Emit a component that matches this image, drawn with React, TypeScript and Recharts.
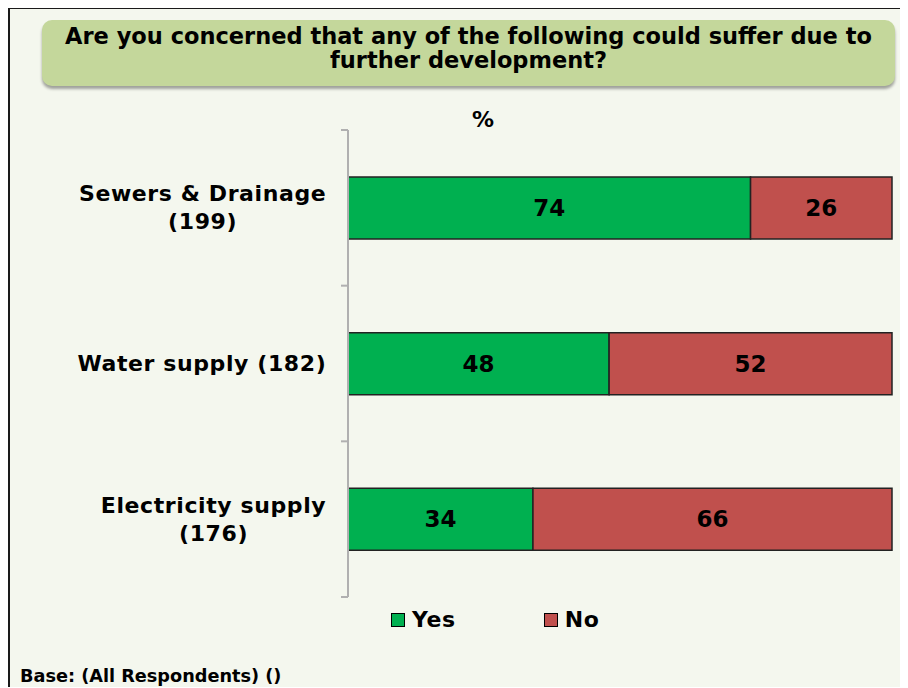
import React from "react";
import { BarChart, Bar, XAxis, YAxis, LabelList, Legend } from "recharts";

const categories = ["Sewers & Drainage (199)", "Water supply (182)", "Electricity supply (176)"];
const categoryLines = [["Sewers & Drainage", "(199)"], ["Water supply (182)"], ["Electricity supply", "(176)"]];
const yesValues = [74, 48, 34];
const noValues = [26, 52, 66];
const seriesNames = ["Yes", "No"];
const seriesColors = ["#00B050", "#C0504D"];

const data = categories.map((c, i) => ({ name: c, yes: yesValues[i], no: noValues[i] }));

const LABEL_FONT = "'DejaVu Sans', Verdana, sans-serif";
const TICK_FS = 22;
const TICK_LS = 0.6;

let ctx: CanvasRenderingContext2D | null = null;
function measure(text: string, fs: number, ls: number) {
  if (!ctx) {
    const c = document.createElement("canvas");
    ctx = c.getContext("2d");
  }
  if (!ctx) return text.length * (fs * 0.65 + ls);
  ctx.font = `bold ${fs}px 'DejaVu Sans'`;
  return ctx.measureText(text).width + ls * text.length;
}

const CHART_W = 898;
const CHART_H = 678;
const MARGIN = { top: 121, right: 16, bottom: 90, left: 0 };
const Y_WIDTH = 338;
const TICK_MARGIN = 16;
const TICK_SIZE = 6;

const CatTick = (props: any) => {
  const { x, y, payload, index } = props;
  const idx = categories.indexOf(payload.value);
  const lines = categoryLines[idx] || [payload.value];
  const band = (CHART_H - MARGIN.top - MARGIN.bottom) / categories.length;
  const maxW = Math.max(...lines.map((l) => measure(l, TICK_FS, TICK_LS)));
  const cx = x - maxW / 2 + TICK_LS / 2;
  const lh = 28;
  const startY = y - ((lines.length - 1) * lh) / 2;
  const axisX = x + TICK_MARGIN + TICK_SIZE;
  return (
    <g>
      <line x1={axisX - 7} x2={axisX} y1={y - band / 2} y2={y - band / 2} stroke="#b0b0b0" strokeWidth={2} />
      {index === categories.length - 1 && (
        <line x1={axisX - 7} x2={axisX} y1={y + band / 2} y2={y + band / 2} stroke="#b0b0b0" strokeWidth={2} />
      )}
      <text
        x={cx}
        y={startY}
        textAnchor="middle"
        fontFamily={LABEL_FONT}
        fontWeight="bold"
        fontSize={TICK_FS}
        letterSpacing={TICK_LS}
        fill="#000"
      >
        {lines.map((l, i) => (
          <tspan key={i} x={cx} y={startY + i * lh} dominantBaseline="central">
            {l}
          </tspan>
        ))}
      </text>
    </g>
  );
};

const LegendContent = () => (
  <div
    style={{
      display: "flex",
      alignItems: "center",
      marginLeft: 381,
      fontFamily: LABEL_FONT,
      fontWeight: "bold",
      fontSize: 22,
      letterSpacing: 0.6,
    }}
  >
    {seriesNames.map((n, i) => (
      <div key={n} style={{ display: "flex", alignItems: "center", marginRight: i === 0 ? 88 : 0 }}>
        <div style={{ width: 12, height: 12, background: seriesColors[i], border: "1px solid #000", marginRight: 7 }} />
        <span style={{ color: "#000" }}>{n}</span>
      </div>
    ))}
  </div>
);

export default function App() {
  return (
    <div
      style={{
        position: "relative",
        width: 898,
        height: 678,
        marginTop: -1,
        borderTop: "2px solid #1a1a1a",
        borderLeft: "2px solid #1a1a1a",
        background: "#f4f7ee",
        overflow: "hidden",
      }}
    >
      <div
        style={{
          position: "absolute",
          left: 32,
          top: 11,
          width: 853,
          height: 66,
          borderRadius: 10,
          background: "#c4d79b",
          boxShadow: "0 3px 3px rgba(0,0,0,0.35)",
          display: "flex",
          alignItems: "center",
          justifyContent: "center",
          textAlign: "center",
          fontFamily: LABEL_FONT,
          fontWeight: "bold",
          fontSize: 22.5,
          lineHeight: "24px",
          color: "#000",
          whiteSpace: "nowrap",
        }}
      >
        <div style={{ transform: "translateY(-5px)" }}>
          Are you concerned that any of the following could suffer due to
          <br />
          further development?
        </div>
      </div>
      <div
        style={{
          position: "absolute",
          left: 473,
          top: 110,
          transform: "translate(-50%, -50%)",
          fontFamily: LABEL_FONT,
          fontWeight: "bold",
          fontSize: 22,
          color: "#000",
        }}
      >
        %
      </div>
      <div style={{ position: "absolute", left: 0, top: 0 }}>
        <BarChart width={CHART_W} height={CHART_H} data={data} layout="vertical" margin={MARGIN} barSize={62}>
          <XAxis type="number" domain={[0, 100]} hide />
          <YAxis
            type="category"
            dataKey="name"
            width={Y_WIDTH}
            axisLine={{ stroke: "#b0b0b0", strokeWidth: 2 }}
            tickLine={false}
            tickMargin={TICK_MARGIN}
            tickSize={TICK_SIZE}
            tick={<CatTick />}
            interval={0}
          />
          <Legend
            layout="horizontal"
            verticalAlign="middle"
            align="center"
            content={<LegendContent />}
            wrapperStyle={{ position: "absolute", top: 598, left: 0, width: CHART_W, height: 30 }}
          />
          <Bar dataKey="yes" name="Yes" stackId="a" fill={seriesColors[0]} stroke="#222" strokeWidth={1.5} isAnimationActive={false}>
            <LabelList dataKey="yes" position="center" fill="#000" fontFamily={LABEL_FONT} fontWeight="bold" fontSize={23} />
          </Bar>
          <Bar dataKey="no" name="No" stackId="a" fill={seriesColors[1]} stroke="#222" strokeWidth={1.5} isAnimationActive={false}>
            <LabelList dataKey="no" position="center" fill="#000" fontFamily={LABEL_FONT} fontWeight="bold" fontSize={23} />
          </Bar>
        </BarChart>
      </div>
      <div
        style={{
          position: "absolute",
          left: 10,
          top: 657,
          fontFamily: LABEL_FONT,
          fontWeight: "bold",
          fontSize: 17.7,
          color: "#000",
          whiteSpace: "nowrap",
        }}
      >
        Base: (All Respondents) ()
      </div>
    </div>
  );
}
